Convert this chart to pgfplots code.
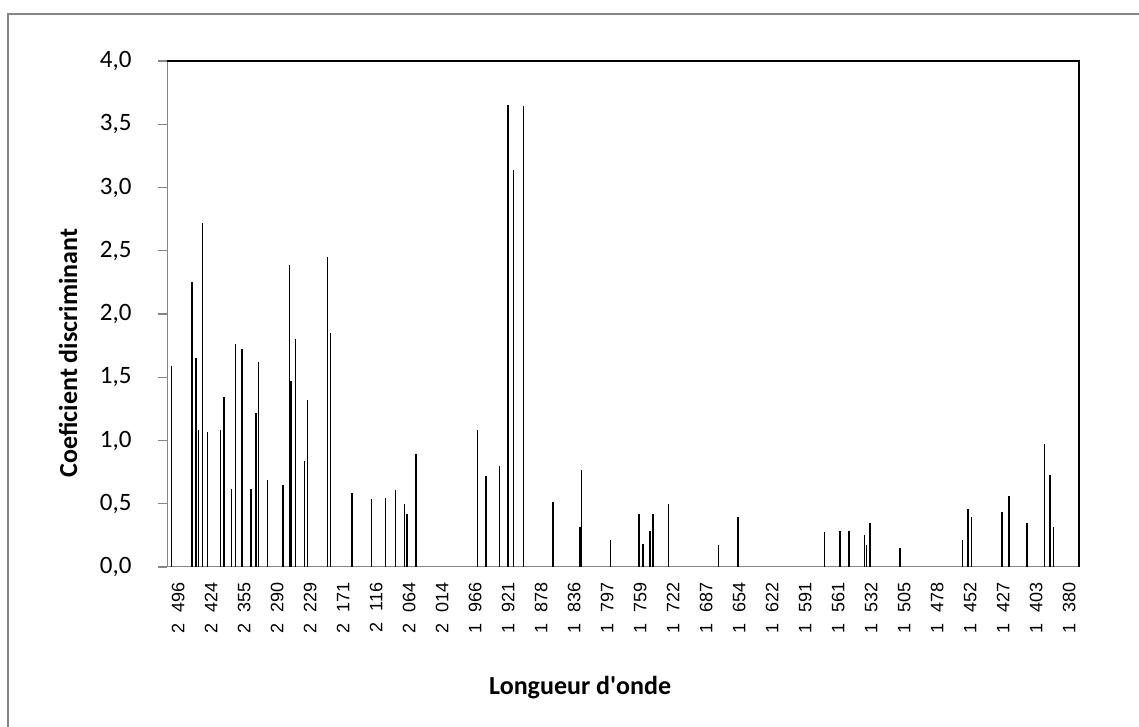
\documentclass[border=0pt]{standalone}
\usepackage{pgfplots}
\pgfplotsset{compat=1.18}
\usepackage{fontspec}
\setmainfont{Carlito}
\newfontfamily\arialfont{Liberation Sans}
\definecolor{framegray}{RGB}{134,134,134}
\newcommand{\sep}{\hspace{0.6em}}
\begin{document}
\begin{tikzpicture}
\useasboundingbox (-83.5pt,-80pt) rectangle (486pt,283.5pt);
\draw[framegray, line width=1.2pt] (-79.5pt,-90pt) -- (-79.5pt,276.5pt) -- (500pt,276.5pt);
\begin{axis}[
  at={(0,0)}, anchor=south west,
  width=456pt, height=253pt, scale only axis,
  xmin=-1, xmax=828, ymin=0, ymax=4,
  axis x line*=bottom, axis y line*=left,
  axis line style={framegray, line width=0.5pt},
  xtick={0,30,...,810},
  xticklabels={2\sep496,2\sep424,2\sep355,2\sep290,2\sep229,2\sep171,2\sep116,2\sep064,2\sep014,1\sep966,1\sep921,1\sep878,1\sep836,1\sep797,1\sep759,1\sep722,1\sep687,1\sep654,1\sep622,1\sep591,1\sep561,1\sep532,1\sep505,1\sep478,1\sep452,1\sep427,1\sep403,1\sep380},
  xtick style={draw=none},
  xticklabel style={font=\arialfont\fontsize{9}{11}\selectfont, rotate=90, anchor=east, yshift=-5pt},
  ytick={0,0.5,1,1.5,2,2.5,3,3.5,4},
  yticklabels={{0,0},{0,5},{1,0},{1,5},{2,0},{2,5},{3,0},{3,5},{4,0}},
  ytick style={framegray, line width=0.6pt},
  tick align=outside, major tick length=4.25pt,
  yticklabel style={font=\fontsize{12.5}{14}\selectfont, anchor=east, xshift=-10pt},
  xlabel={Longueur d\textquotesingle onde},
  ylabel={Coeficient discriminant},
  xlabel style={font=\bfseries\fontsize{13}{15}\selectfont, at={(axis description cs:0.453,-0.239)}, anchor=center},
  ylabel style={font=\bfseries\fontsize{13}{15}\selectfont, at={(axis description cs:-0.1086,0.423)}, anchor=center},
  clip=false,
]
% single-category bars
\addplot[ycomb, black, line width=0.55pt] coordinates {
  (3,1.59) (28,1.08) (31,2.72) (36,1.07) (48,1.08) (58,0.62) (61,1.76)
  (82,1.62) (90,0.69) (110,2.39) (116,1.80) (124,0.84) (127,1.32)
  (145,2.45) (148,1.85) (185,0.54) (198,0.545) (207,0.61) (215,0.50)
  (281,1.08) (289,0.72) (301,0.80) (309,3.65) (314,3.14) (323,3.645)
  (376,0.77) (402,0.21) (438,0.285) (455,0.50) (500,0.17) (518,0.395)
  (597,0.275) (633,0.25) (635,0.17) (638,0.35) (722,0.21) (730,0.395)
  (758,0.435) (797,0.97) (805,0.315)
};
% wider bars (two neighbouring categories)
\addplot[ycomb, black, line width=1.05pt] coordinates {
  (21.5,2.25) (25,1.65) (51,1.345) (67,1.72) (75,0.62) (80,1.22)
  (104.5,0.65) (112,1.47) (167,0.585) (217,0.42) (225,0.89)
  (350,0.515) (374,0.315) (428,0.42) (432,0.18) (441,0.42)
  (611,0.285) (619,0.285) (665,0.15) (727,0.46) (764.5,0.56)
  (780.5,0.35) (801.5,0.73)
};
\draw[black, line width=0.7pt] (rel axis cs:0,1) -- (rel axis cs:1,1) -- (rel axis cs:1,0);
\end{axis}
\end{tikzpicture}
\end{document}
